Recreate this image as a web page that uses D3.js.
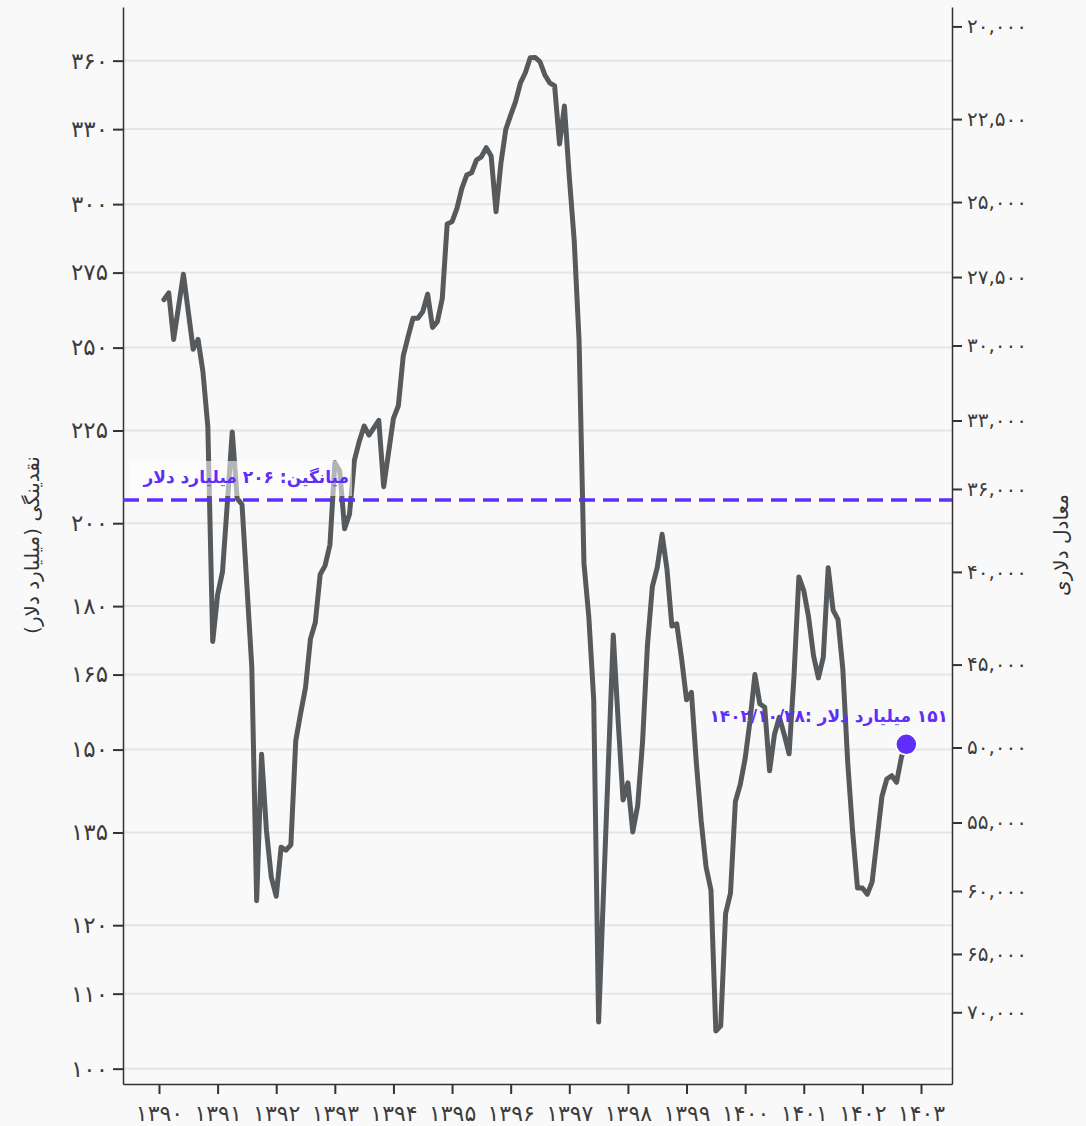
<!DOCTYPE html>
<html><head><meta charset="utf-8">
<script src="https://cdn.jsdelivr.net/npm/d3@7"></script>
<style>
body{margin:0;background:#f9f9f9}
svg{display:block;font-family:"DejaVu Sans",sans-serif}
</style>
</head><body>
<svg id="c" width="1086" height="1126"></svg>
<script>
// ---- data (monthly, Persian calendar) ----
const dates = [
"1390/01","1390/02","1390/03","1390/05","1390/07","1390/08","1390/09","1390/10","1390/11","1390/12",
"1391/01","1391/02","1391/03","1391/04","1391/05","1391/07","1391/08","1391/09","1391/10","1391/11","1391/12",
"1392/01","1392/02","1392/03","1392/04","1392/05","1392/06","1392/07","1392/08","1392/09","1392/10","1392/11","1392/12",
"1393/01","1393/02","1393/03","1393/04","1393/05","1393/06","1393/07","1393/09","1393/10","1393/12",
"1394/01","1394/02","1394/03","1394/04","1394/05","1394/06","1394/07","1394/08","1394/09","1394/10","1394/11","1394/12",
"1395/01","1395/02","1395/03","1395/04","1395/05","1395/06","1395/07","1395/08","1395/09","1395/10","1395/11","1395/12",
"1396/01","1396/02","1396/03","1396/04","1396/05","1396/06","1396/07","1396/08","1396/09","1396/10","1396/11","1396/12",
"1397/01","1397/02","1397/03","1397/04","1397/05","1397/06","1397/09","1397/10","1397/11","1397/12",
"1398/01","1398/02","1398/03","1398/04","1398/05","1398/06","1398/07","1398/08","1398/09","1398/10","1398/11","1398/12",
"1399/01","1399/02","1399/03","1399/04","1399/05","1399/06","1399/07","1399/08","1399/09","1399/10","1399/11","1399/12",
"1400/01","1400/02","1400/03","1400/04","1400/05","1400/06","1400/07","1400/08","1400/09","1400/10","1400/11","1400/12",
"1401/01","1401/02","1401/03","1401/04","1401/05","1401/06","1401/07","1401/08","1401/09","1401/10","1401/11","1401/12",
"1402/01","1402/02","1402/03","1402/04","1402/05","1402/06","1402/07","1402/08","1402/09"
];
const values = [
265.7,268.0,252.6,274.4,249.5,252.6,242.4,226.1,172.1,182.6,
188.0,205.3,224.6,206.4,204.8,166.6,123.8,149.1,135.3,127.5,124.5,
132.5,132.0,132.9,151.7,157.1,162.3,172.6,176.3,187.4,189.5,194.6,216.0,
213.7,198.6,202.3,216.6,221.9,226.3,223.7,227.9,209.5,228.5,
232.2,247.3,253.5,259.5,259.5,261.7,267.6,256.5,258.4,266.2,292.5,293.4,
298.4,306.1,311.3,312.2,317.3,318.6,322.3,318.9,297.1,316.0,329.9,335.9,
341.7,350.0,354.5,361.3,361.5,359.5,353.5,350.0,348.6,323.8,339.8,310.6,
286.6,252.4,190.1,177.5,159.8,106.1,173.5,155.6,140.7,143.8,
135.1,139.7,151.5,171.3,184.5,189.0,197.2,188.6,175.5,176.0,168.3,159.8,
161.3,147.6,137.0,129.2,125.5,104.9,105.6,121.8,125.0,140.4,143.5,148.3,
155.6,165.0,159.0,158.3,146.0,152.9,156.3,152.9,149.2,164.7,186.8,183.6,
177.4,169.0,164.3,168.7,189.0,179.1,177.0,166.1,147.6,135.2,125.8,125.8,
124.8,126.8,133.8,141.3,144.5,145.1,143.9,148.6,151.0
];
const leftTicks = [100,110,120,135,150,165,180,200,225,250,275,300,330,360];
const rightTicks = [20000,22500,25000,27500,30000,33000,36000,40000,45000,50000,55000,60000,65000,70000];
const yearTicks = [1390,1391,1392,1393,1394,1395,1396,1397,1398,1399,1400,1401,1402,1403];
const meanValue = 206;
const lastDateLabel = "1402/10/28";
const rateConstant = 7.52e6;   // dollar equivalent = constant / liquidity
const leftTitle = "نقدینگی (میلیارد دلار)";
const rightTitle = "معادل دلاری";
const unitText = "میلیارد دلار";
const meanPrefix = "میانگین:";

// ---- helpers ----
const fa = s => String(s).replace(/\d/g, d => "۰۱۲۳۴۵۶۷۸۹"[d]);
const toT = s => { const [y, m] = s.split("/").map(Number); return y + m / 12; };

const W = 1086, H = 1126;
const L = 123, R = 952, T = 7, B = 1084;
const accent = "#5f2ef8";
const svg = d3.select("#c");
svg.append("rect").attr("width", W).attr("height", H).attr("fill", "#f9f9f9");

const x = d3.scaleLinear().domain([1389.386, 1403.529]).range([L, R]);
const yDom = [98.07, 385.4];
const y = d3.scaleLog().domain(yDom).range([B, T]);
const y2 = d3.scaleLog().domain([rateConstant / yDom[0], rateConstant / yDom[1]]).range([B, T]);

// grid
svg.append("g").selectAll("line").data(leftTicks).join("line")
  .attr("x1", L).attr("x2", R).attr("y1", d => y(d)).attr("y2", d => y(d))
  .attr("stroke", "#e5e5e5").attr("stroke-width", 2);

// axes
function styleAxis(size) {
  return g => {
    g.select(".domain").attr("stroke", "#333").attr("stroke-width", 1.5);
    g.selectAll(".tick line").attr("stroke", "#333").attr("stroke-width", 2);
    g.selectAll(".tick text").attr("fill", "#3c3c3c").attr("font-size", size)
      .attr("font-family", "DejaVu Sans");
  };
}
svg.append("g").attr("transform", `translate(${L},0)`)
  .call(d3.axisLeft(y).tickValues(leftTicks).tickFormat(d => fa(d)).tickSize(10).tickPadding(5).tickSizeOuter(0))
  .call(styleAxis(23));
svg.append("g").attr("transform", `translate(${R},0)`)
  .call(d3.axisRight(y2).tickValues(rightTicks).tickFormat(d => fa(d3.format(",")(d))).tickSize(10).tickPadding(5).tickSizeOuter(0))
  .call(styleAxis(20));
svg.append("g").attr("transform", `translate(0,${B})`)
  .call(d3.axisBottom(x).tickValues(yearTicks).tickFormat(d => fa(d)).tickSize(10).tickPadding(11).tickSizeOuter(0))
  .call(styleAxis(22));

// titles
svg.append("text").attr("transform", `translate(39,545) rotate(-90)`)
  .attr("text-anchor", "middle").attr("font-size", 20).attr("fill", "#333")
  .attr("direction", "rtl").text(leftTitle);
svg.append("text").attr("transform", `translate(1068,545) rotate(-90)`)
  .attr("text-anchor", "middle").attr("font-size", 20).attr("fill", "#333")
  .attr("direction", "rtl").text(rightTitle);

// series line
const pts = dates.map((d, i) => ({ t: toT(d), v: values[i] }));
svg.append("path").datum(pts)
  .attr("d", d3.line().x(d => x(d.t)).y(d => y(d.v)))
  .attr("fill", "none").attr("stroke", "#565a5d").attr("stroke-width", 5)
  .attr("stroke-linejoin", "round").attr("stroke-linecap", "round");

// mean line
svg.append("line").attr("x1", L).attr("x2", R).attr("y1", y(meanValue)).attr("y2", y(meanValue))
  .attr("stroke", accent).attr("stroke-width", 3.5).attr("stroke-dasharray", "16,8");

// mean label with translucent box
const mg = svg.append("g");
const mbox = mg.append("rect").attr("fill", "#fff").attr("fill-opacity", 0.55);
const mt = mg.append("text").attr("x", 349).attr("y", 483)
  .attr("direction", "rtl").attr("text-anchor", "start")
  .attr("font-size", 17).attr("font-weight", "bold").attr("fill", accent)
  .text(meanPrefix + " " + fa(meanValue) + " " + unitText);
const bb = mt.node().getBBox();
mbox.attr("x", bb.x - 13).attr("y", 461).attr("width", bb.width + 16).attr("height", 35);

// end point
const last = pts[pts.length - 1];
svg.append("text").attr("x", 948).attr("y", 722)
  .attr("direction", "rtl").attr("text-anchor", "start")
  .attr("font-size", 17).attr("font-weight", "bold").attr("fill", accent)
  .text(fa(Math.round(last.v)) + " " + unitText + " :" + fa(lastDateLabel));
svg.append("circle").attr("cx", x(last.t)).attr("cy", y(last.v)).attr("r", 10.5)
  .attr("fill", accent).attr("stroke", "#fff").attr("stroke-width", 1.5);
</script>
</body></html>
